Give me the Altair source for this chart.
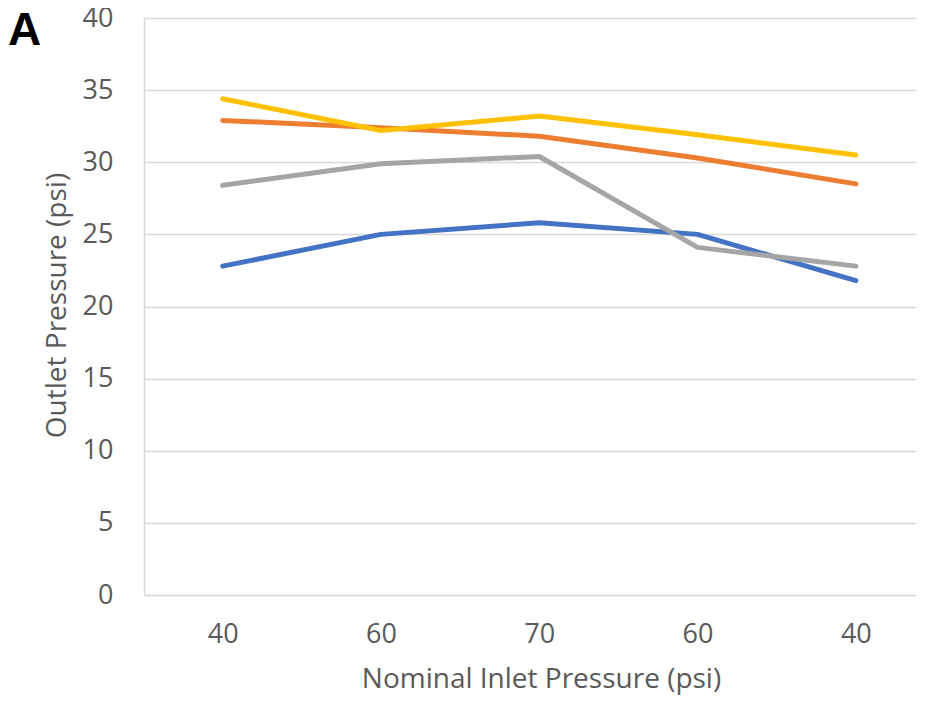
import altair as alt
import pandas as pd

# ---- data ----
categories = ["40", "60", "70", "60", "40"]
series_names = ["Series 1", "Series 2", "Series 3", "Series 4"]
blue_vals = [22.8, 25.0, 25.8, 25.0, 21.8]
orange_vals = [32.9, 32.4, 31.8, 30.3, 28.5]
gray_vals = [28.4, 29.9, 30.4, 24.1, 22.8]
yellow_vals = [34.4, 32.2, 33.2, 31.9, 30.5]
series_colors = ["#4472C4", "#ED7D31", "#A5A5A5", "#FFC000"]
y_ticks = [0, 5, 10, 15, 20, 25, 30, 35, 40]
panel_label = ["A"]

rows = []
for name, vals in zip(series_names, [blue_vals, orange_vals, gray_vals, yellow_vals]):
    for i, v in enumerate(vals):
        rows.append({"series": name, "idx": i, "value": v})
df = pd.DataFrame(rows)

label_expr = "[" + ",".join("'%s'" % c for c in categories) + "][datum.value]"

FONT = "Open Sans"
TXT = "#595959"
GRID = "#D9D9D9"

x_enc = alt.X(
    "idx:Q",
    scale=alt.Scale(domain=[-0.497, 4.38], nice=False, zero=False),
    axis=alt.Axis(
        values=list(range(len(categories))),
        labelExpr=label_expr,
        grid=False,
        ticks=False,
        tickSize=0,
        domainColor=GRID,
        domainWidth=1.5,
        labelFont=FONT,
        labelFontSize=27,
        labelColor=TXT,
        labelBaseline="middle",
        labelPadding=39,
        title="Nominal Inlet Pressure (psi)",
        titleFont=FONT,
        titleFontSize=28,
        titleFontWeight="normal",
        titleColor=TXT,
        titleBaseline="alphabetic",
        titleAlign="center",
        titleX=397,
        titleY=92,
    ),
)

y_enc = alt.Y(
    "value:Q",
    scale=alt.Scale(domain=[0, 40], nice=False),
    axis=alt.Axis(
        values=y_ticks,
        grid=True,
        gridColor=GRID,
        gridWidth=1.5,
        ticks=False,
        tickSize=0,
        domainColor=GRID,
        domainWidth=1.5,
        labelFont=FONT,
        labelFontSize=27,
        labelColor=TXT,
        labelPadding=31,
        title="Outlet Pressure (psi)",
        titleFont=FONT,
        titleFontSize=28,
        titleFontWeight="normal",
        titleColor=TXT,
        titleBaseline="middle",
        titleX=-87,
        titleY=287,
        titleAlign="center",
    ),
)

lines = alt.Chart(df).mark_line(
    strokeWidth=5, strokeCap="round", strokeJoin="round"
).encode(
    x=x_enc,
    y=y_enc,
    color=alt.Color(
        "series:N",
        scale=alt.Scale(domain=series_names, range=series_colors),
        legend=None,
        sort=series_names,
    ),
    order="idx:Q",
)

label = alt.Chart(pd.DataFrame({"t": panel_label})).mark_text(
    font="Liberation Sans",
    fontSize=46,
    fontWeight="bold",
    color="#000000",
    align="left",
    baseline="alphabetic",
).encode(
    text="t:N",
    x=alt.value(-136),
    y=alt.value(27),
)

chart = (
    alt.layer(lines, label)
    .properties(
        width=772,
        height=577,
        autosize=alt.AutoSizeParams(type="none"),
        padding={"left": 136, "top": 10, "right": 0, "bottom": 100},
        background="white",
    )
    .configure_view(stroke=None)
)

chart.save("out.html", embed_options={"renderer": "svg", "actions": False})
